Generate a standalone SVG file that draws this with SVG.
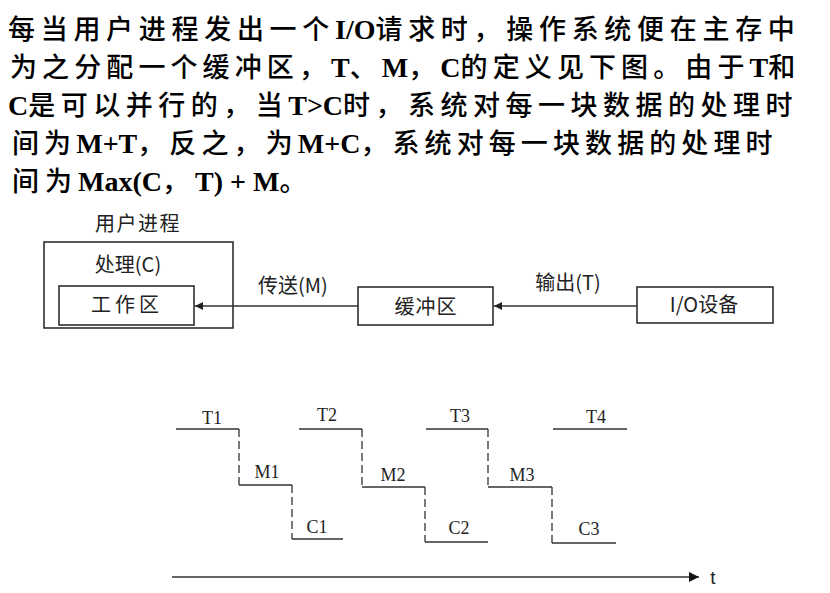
<svg xmlns="http://www.w3.org/2000/svg" width="830" height="593" viewBox="0 0 830 593">
<style>
.para{font-family:"Liberation Serif","Noto Sans CJK SC",serif;font-size:27px;font-weight:500;fill:#000}
.para .l{font-weight:bold;font-size:28px;letter-spacing:0}
.lbl{font-family:"Noto Sans CJK SC","Liberation Sans",sans-serif;font-size:20px;fill:#222;text-anchor:middle}
.box{fill:#fff;stroke:#222;stroke-width:1.5}
.conn{stroke:#333;stroke-width:1.3;fill:none}
.step{stroke:#333;stroke-width:1.3;fill:none}
.dash{stroke:#333;stroke-width:1.3;fill:none;stroke-dasharray:8 4}
.tl{font-family:"Liberation Serif",serif;font-size:18px;fill:#222;text-anchor:middle}
</style>
<defs>
<marker id="ah" viewBox="0 0 10 10" refX="10" refY="5" markerWidth="8" markerHeight="8" markerUnits="userSpaceOnUse" orient="auto">
<path d="M0,0 L10,5 L0,10 z" fill="#222"/>
</marker>
<marker id="ah2" viewBox="0 0 10 10" refX="10" refY="5" markerWidth="11" markerHeight="10" markerUnits="userSpaceOnUse" orient="auto">
<path d="M0,0 L10,5 L0,10 z" fill="#111"/>
</marker>
</defs>
<g id="paragraph">
<text class="para" x="8" y="39" letter-spacing="5.7">每当用户进程发出一个<tspan class="l">I/O</tspan>请求时，操作系统便在主存中</text>
<text class="para" x="10" y="77" letter-spacing="5.1">为之分配一个缓冲区，<tspan class="l">T</tspan>、<tspan class="l">M</tspan>，<tspan class="l">C</tspan>的定义见下图。由于<tspan class="l">T</tspan>和</text>
<text class="para" x="8" y="115" letter-spacing="5.5"><tspan class="l">C</tspan>是可以并行的，当<tspan class="l">T&gt;C</tspan>时，系统对每一块数据的处理时</text>
<text class="para" x="12" y="153" letter-spacing="5.1">间为<tspan class="l">M+T</tspan>，反之，为<tspan class="l">M+C</tspan>，系统对每一块数据的处理时</text>
<text class="para" x="12" y="191" letter-spacing="6">间为<tspan class="l">Max(C</tspan>，<tspan class="l">T) + M</tspan>。</text>
</g>
<g id="user-process">
<text class="lbl" x="138" y="231" letter-spacing="1.5">用户进程</text>
<rect class="box" x="44" y="242" width="189" height="86"/>
<text class="lbl" x="128" y="272">处理(C)</text>
</g>
<g id="work-area">
<rect class="box" x="59" y="286" width="135" height="39"/>
<text class="lbl" x="127" y="312" letter-spacing="4">工作区</text>
</g>
<g id="buffer">
<rect class="box" x="358" y="287" width="135" height="38"/>
<text class="lbl" x="426" y="314" letter-spacing="1">缓冲区</text>
</g>
<g id="io-device">
<rect class="box" x="637" y="287" width="136" height="36"/>
<text class="lbl" x="704" y="312">I/O设备</text>
</g>
<g id="connectors">
<line class="conn" x1="358" y1="306" x2="195" y2="306" marker-end="url(#ah)"/>
<text class="lbl" x="293" y="293">传送(M)</text>
<line class="conn" x1="637" y1="306" x2="494" y2="306" marker-end="url(#ah)"/>
<text class="lbl" x="568" y="290">输出(T)</text>
</g>
<g id="timing">
<polyline class="step" points="176,429 239,429"/>
<line class="dash" x1="239" y1="429" x2="239" y2="485"/>
<polyline class="step" points="239,485 292,485"/>
<line class="dash" x1="292" y1="485" x2="292" y2="539"/>
<polyline class="step" points="292,539 343,539"/>
<text class="tl" x="212" y="424">T1</text>
<text class="tl" x="267" y="478">M1</text>
<text class="tl" x="317" y="533">C1</text>

<polyline class="step" points="299,429 362,429"/>
<line class="dash" x1="362" y1="429" x2="362" y2="487"/>
<polyline class="step" points="362,487 425,487"/>
<line class="dash" x1="425" y1="487" x2="425" y2="542"/>
<polyline class="step" points="425,542 488,542"/>
<text class="tl" x="327" y="421">T2</text>
<text class="tl" x="393" y="481">M2</text>
<text class="tl" x="459" y="534">C2</text>

<polyline class="step" points="426,429 488,429"/>
<line class="dash" x1="488" y1="429" x2="488" y2="487"/>
<polyline class="step" points="488,487 552,487"/>
<line class="dash" x1="552" y1="487" x2="552" y2="543"/>
<polyline class="step" points="552,543 616,543"/>
<text class="tl" x="460" y="422">T3</text>
<text class="tl" x="522" y="481">M3</text>
<text class="tl" x="589" y="535">C3</text>

<polyline class="step" points="553,429 627,429"/>
<text class="tl" x="596" y="423">T4</text>
</g>
<g id="time-axis">
<line class="conn" x1="172" y1="577" x2="699" y2="577" marker-end="url(#ah2)"/>
<text x="713" y="584" font-family="Liberation Sans, sans-serif" font-size="19" fill="#222" text-anchor="middle">t</text>
</g>
</svg>
